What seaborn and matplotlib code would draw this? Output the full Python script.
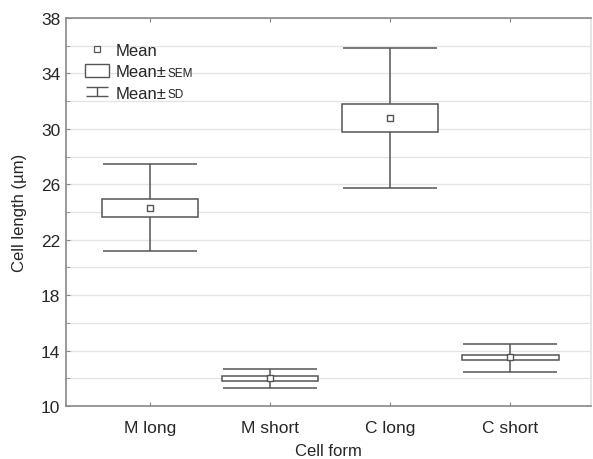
import matplotlib
matplotlib.use("Agg")
import matplotlib.pyplot as plt
from matplotlib.lines import Line2D
from matplotlib.patches import Rectangle
from matplotlib.legend_handler import HandlerErrorbar
import seaborn as sns
import pandas as pd
import numpy as np

# values
forms = ['M long', 'M short', 'C long', 'C short']
mean = [24.3, 12.0, 30.8, 13.55]
sem_lo = [23.65, 11.8, 29.8, 13.3]
sem_hi = [24.95, 12.15, 31.8, 13.7]
sd_lo = [21.15, 11.3, 25.75, 12.45]
sd_hi = [27.45, 12.7, 35.85, 14.5]

df = pd.DataFrame({'form': forms, 'mean': mean, 'sem_lo': sem_lo, 'sem_hi': sem_hi,
                   'sd_lo': sd_lo, 'sd_hi': sd_hi})
df['pos'] = range(len(df))

sns.set_style('white')
plt.rcParams['font.family'] = ['Liberation Sans', 'DejaVu Sans']

line_c = '#555555'
fig = plt.figure(figsize=(5.93, 4.6), dpi=100)
ax = fig.add_axes([0.1113, 0.1152, 0.8853, 0.8435])

# SD whiskers with caps
ax.errorbar(df['pos'], df['mean'],
            yerr=[df['mean'] - df['sd_lo'], df['sd_hi'] - df['mean']],
            fmt='none', ecolor=line_c, elinewidth=1.1, capsize=34, capthick=1.1, zorder=2)
# SEM boxes
ax.bar(df['pos'], df['sem_hi'] - df['sem_lo'], bottom=df['sem_lo'], width=0.8,
       color='white', edgecolor=line_c, linewidth=1.1, zorder=3)
# means
sns.scatterplot(data=df, x='pos', y='mean', marker='s', s=22, color='white',
                edgecolor=line_c, linewidth=1.0, ax=ax, zorder=4, legend=False)

ax.set_xlim(-0.7, 3.67)
ax.set_ylim(10, 38)
ax.set_xticks(df['pos'])
ax.set_xticklabels(forms)
ax.set_yticks(range(10, 39, 4))
ax.set_yticks(range(12, 38, 4), minor=True)
ax.grid(True, axis='y', which='both', color='#e4e4e4', linewidth=0.9, zorder=0)
ax.set_axisbelow(True)
ax.tick_params(axis='both', which='both', direction='in', length=3, color='#888888',
               labelsize=12.5, top=True, right=False, left=True, bottom=True)
ax.tick_params(axis='x', pad=10)
ax.tick_params(axis='y', pad=4)
for s in ax.spines.values():
    s.set_color('#888888')
    s.set_linewidth(1.2)
ax.spines['right'].set_color('#e0e0e0')

ax.set_xlabel('Cell form', fontsize=12, labelpad=6)
ax.set_ylabel('Cell length (µm)', fontsize=12, labelpad=10)

# legend handles (dummy SD handle drawn at NaN so it stays invisible)
sd_handle = ax.errorbar([np.nan], [np.nan], yerr=[[1], [1]], fmt='none', ecolor=line_c,
                        elinewidth=1.0, capsize=8, capthick=1.0)
handles = [
    Line2D([], [], marker='s', linestyle='none', markersize=4, markerfacecolor='white',
           markeredgecolor=line_c, markeredgewidth=0.9),
    Rectangle((0, 0), 1, 1, facecolor='white', edgecolor=line_c, linewidth=1.0),
    sd_handle,
]
leg = ax.legend(handles, ['Mean', 'Mean±', 'Mean±'], loc='upper left',
                bbox_to_anchor=(0.008, 0.975), frameon=False, fontsize=12,
                handlelength=1.4, handleheight=0.8, handletextpad=0.45, labelspacing=0.38,
                handler_map={type(sd_handle): HandlerErrorbar(yerr_size=0.28)})

# small-caps suffixes after the legend labels
fig.canvas.draw()
inv = fig.transFigure.inverted()
txts = leg.get_texts()
for t, extra in [(txts[1], 'SEM'), (txts[2], 'SD')]:
    bb = t.get_window_extent()
    x, y = inv.transform((bb.x1 + 0.5, bb.y0 + 3.6))
    fig.text(x, y, extra, fontsize=8.5, ha='left', va='baseline')

fig.savefig('out.png', dpi=100)
